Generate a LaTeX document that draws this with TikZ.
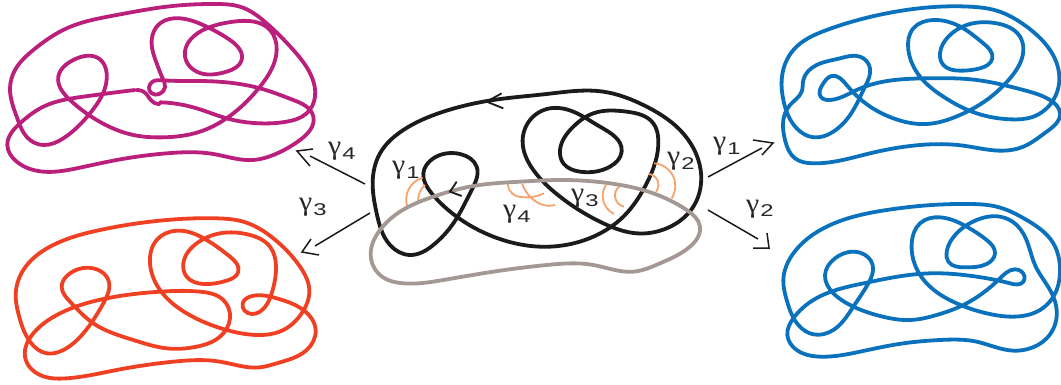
\documentclass[tikz,border=0pt]{standalone}
\usepackage{fontspec}
\setmainfont{Liberation Serif}
\newfontfamily\subfont{Liberation Sans}
\usetikzlibrary{hobby}
\definecolor{cblack}{HTML}{1C1A1B}
\definecolor{cgray}{HTML}{A39894}
\definecolor{cmag}{HTML}{BB1F7C}
\definecolor{cred}{HTML}{F04023}
\definecolor{cblue}{HTML}{0A71BC}
\definecolor{corange}{HTML}{F5A26B}
\newcommand{\glab}[1]{\scalebox{1.1}[1]{γ}\kern1pt{\subfont\fontsize{17}{17}\selectfont\raisebox{-5pt}{\scalebox{1.4}[1]{#1}}}}
\tikzset{
  knot/.style={line width=3.8pt,line join=round,line cap=round,use Hobby shortcut},
  cknot/.style={knot,closed=true},
  arc/.style={line width=1.8pt,corange,use Hobby shortcut},
  conn/.style={line width=1.5pt,cblack},
  headbarb/.style={line width=1.5pt,cblack,line join=miter},
  barb/.style={line width=1.8pt,cblack,line join=miter},
  glabel/.style={font=\fontsize{27}{27}\selectfont,text=black!85,inner sep=0pt,anchor=base west},
  zoomed/.style={scale=0.33333}
}
\begin{document}
\begin{tikzpicture}[x=1pt,y=-1pt]
\useasboundingbox (0,0) rectangle (1061,385);
% central
\begin{scope}[shift={(360,80)},zoomed]
\draw[cknot,cblack] (400,60)..(560,42)..(730,35)..(850,75)..(960,150)..(1022,270)..(1000,380)..(920,445)..(830,460)..(730,430)..(600,350)..(520,270)..(488,190)..(510,120)..(570,85)..(640,95)..(720,140)..(785,215)..(750,260)..(660,275)..(610,250)..(600,210)..(640,140)..(700,100)..(800,95)..(880,130)..(895,180)..(860,310)..(790,410)..(700,470)..(540,500)..(400,470)..(290,410)..(215,340)..(190,280)..(220,235)..(300,222)..(350,260)..(335,330)..(280,430)..(220,495)..(150,525)..(90,495)..(50,400)..(38,310)..(60,220)..(130,150)..(250,95);
\draw[arc] (142,380)..(145,330)..(188,293);
\draw[arc] (175,370)..(180,335)..(195,315);
\draw[arc] (443,312)..(456,340)..(490,352)..(552,340);
\draw[arc] (487,312)..(515,355)..(550,375)..(585,375);
\draw[arc] (762,402)..(728,350)..(738,315);
\draw[arc] (792,380)..(765,350)..(780,318);
\draw[arc] (865,282)..(892,300)..(888,335);
\draw[arc] (883,250)..(940,290)..(935,355);
\draw[cknot,cgray] (340,318)..(480,305)..(600,300)..(750,310)..(880,340)..(980,390)..(1020,440)..(990,500)..(900,550)..(820,575)..(700,555)..(560,555)..(400,575)..(250,600)..(130,610)..(60,585)..(32,520)..(60,450)..(120,395)..(220,350);
\draw[barb] (425,40) -- (380,65) -- (430,85);
\draw[barb] (290,305) -- (270,335) -- (305,348);
\end{scope}
% magenta
\begin{scope}[zoomed]
\draw[knot,cmag] (480,307)..(520,310)..(590,325)..(680,355)..(780,370)..(860,365)..(920,340)..(945,290)..(935,230)..(880,150)..(800,70)..(720,20)..(650,12)..(500,20)..(350,45)..(200,85)..(100,150)..(45,210)..(30,265)..(50,350)..(90,420)..(130,435)..(190,415)..(270,340)..(320,220)..(300,178)..(220,180)..(175,230)..(210,300)..(290,360)..(400,405)..(490,412)..(600,395)..(700,340)..(780,260)..(830,150)..(810,90)..(700,65)..(620,85)..(555,170)..(590,215)..(680,215)..(725,180)..(690,120)..(620,80)..(540,55)..(480,70)..(455,120)..(470,190)..(488,235)..(495,262)..(478,282)..(455,280)..(447,262)..(458,245)..(490,241)..(600,243)..(780,265)..(880,300)..(940,350)..(900,420)..(820,465)..(760,480)..(640,462)..(500,460)..(350,480)..(230,505)..(130,515)..(50,485)..(22,435)..(60,370)..(130,320)..(250,290)..(405,270);
\draw[knot,cmag] (410,270)..(440,283)..(452,300)..(478,313);
\end{scope}
% red
\begin{scope}[shift={(0,190)},zoomed]
\draw[cknot,cred] (650,85)..(730,95)..(820,145)..(900,230)..(928,300)..(905,370)..(850,420)..(770,435)..(680,420)..(560,370)..(480,300)..(450,220)..(470,150)..(530,122)..(620,150)..(690,200)..(715,245)..(680,272)..(610,282)..(560,260)..(550,220)..(590,160)..(660,130)..(750,135)..(810,170)..(828,230)..(815,310)..(780,365)..(755,372)..(728,340)..(750,320)..(830,325)..(910,360)..(947,420)..(920,480)..(830,520)..(780,532)..(660,515)..(520,515)..(350,540)..(200,565)..(120,555)..(75,500)..(100,430)..(180,370)..(320,325)..(480,305)..(600,305)..(670,330)..(690,385)..(660,440)..(590,470)..(500,475)..(400,450)..(280,400)..(210,335)..(185,290)..(210,250)..(290,238)..(325,270)..(310,340)..(250,430)..(190,480)..(140,490)..(90,455)..(55,370)..(47,320)..(70,240)..(150,170)..(300,120)..(500,90);
\end{scope}
% blue top
\begin{scope}[shift={(770,0)},zoomed]
\draw[cknot,cblue] (600,20)..(680,32)..(770,80)..(840,150)..(868,230)..(850,300)..(790,350)..(720,358)..(620,340)..(520,290)..(450,230)..(415,150)..(430,85)..(490,60)..(580,85)..(640,130)..(667,175)..(630,205)..(570,212)..(520,195)..(510,160)..(535,110)..(590,75)..(680,70)..(750,110)..(760,150)..(720,235)..(650,300)..(570,345)..(470,372)..(370,355)..(280,305)..(230,255)..(185,228)..(160,250)..(152,290)..(180,300)..(260,270)..(340,245)..(470,235)..(620,240)..(760,270)..(840,300)..(870,340)..(830,395)..(760,440)..(700,452)..(580,437)..(450,435)..(300,460)..(130,490)..(75,475)..(45,420)..(40,360)..(60,315)..(95,275)..(100,240)..(140,195)..(210,175)..(270,170)..(300,205)..(285,260)..(250,330)..(190,395)..(130,412)..(80,385)..(40,300)..(35,240)..(70,150)..(170,90)..(350,40);
\end{scope}
% blue bottom
\begin{scope}[shift={(770,190)},zoomed]
\draw[cknot,cblue] (600,42)..(680,50)..(770,90)..(850,160)..(870,240)..(860,300)..(810,360)..(730,380)..(650,370)..(560,340)..(480,290)..(435,225)..(425,160)..(450,100)..(510,82)..(590,110)..(650,150)..(675,190)..(650,222)..(585,232)..(535,215)..(530,185)..(560,130)..(620,90)..(690,80)..(740,105)..(775,165)..(795,225)..(850,320)..(860,380)..(830,445)..(770,478)..(730,482)..(620,455)..(510,450)..(400,460)..(270,485)..(150,500)..(80,480)..(52,435)..(70,385)..(130,330)..(280,280)..(480,250)..(620,260)..(720,280)..(760,275)..(755,245)..(735,238)..(690,265)..(580,345)..(500,375)..(420,390)..(330,378)..(240,345)..(190,310)..(165,255)..(195,205)..(270,188)..(308,225)..(295,280)..(250,350)..(190,420)..(130,433)..(85,405)..(50,330)..(40,270)..(70,190)..(170,110)..(350,60);
\end{scope}
% connectors: shaft, then a detached open head
\coordinate (a1s) at (708,177); \coordinate (a1e) at (762,148);
\coordinate (a1t) at (773,143); \coordinate (a1u) at (753,140); \coordinate (a1v) at (762,155);
\coordinate (a2s) at (708,210); \coordinate (a2e) at (758,239);
\coordinate (a2t) at (769,248); \coordinate (a2u) at (753,248); \coordinate (a2v) at (767,233);
\coordinate (a4s) at (365,184); \coordinate (a4e) at (310,156);
\coordinate (a4t) at (297,151); \coordinate (a4u) at (313,149); \coordinate (a4v) at (310,166);
\coordinate (a3s) at (370,213); \coordinate (a3e) at (315,246);
\coordinate (a3t) at (302,252); \coordinate (a3u) at (311,239); \coordinate (a3v) at (319,255);
\draw[conn] (a1s) -- (a1e);
\draw[headbarb] (a1u) -- (a1t) -- (a1v);
\draw[conn] (a2s) -- (a2e);
\draw[headbarb] (a2u) -- (a2t) -- (a2v);
\draw[conn] (a4s) -- (a4e);
\draw[headbarb] (a4u) -- (a4t) -- (a4v);
\draw[conn] (a3s) -- (a3e);
\draw[headbarb] (a3u) -- (a3t) -- (a3v);
% labels
\node[glabel] (l1) at (713,150) {\glab{1}};
\node[glabel] (l2) at (746,212) {\glab{2}};
\node[glabel] (l4) at (328,155) {\glab{4}};
\node[glabel] (l3) at (299,211) {\glab{3}};
\node[glabel] (c1) at (392,174) {\glab{1}};
\node[glabel] (c2) at (667,165) {\glab{2}};
\node[glabel] (c3) at (571,202) {\glab{3}};
\node[glabel] (c4) at (503,218) {\glab{4}};
\end{tikzpicture}
\end{document}
